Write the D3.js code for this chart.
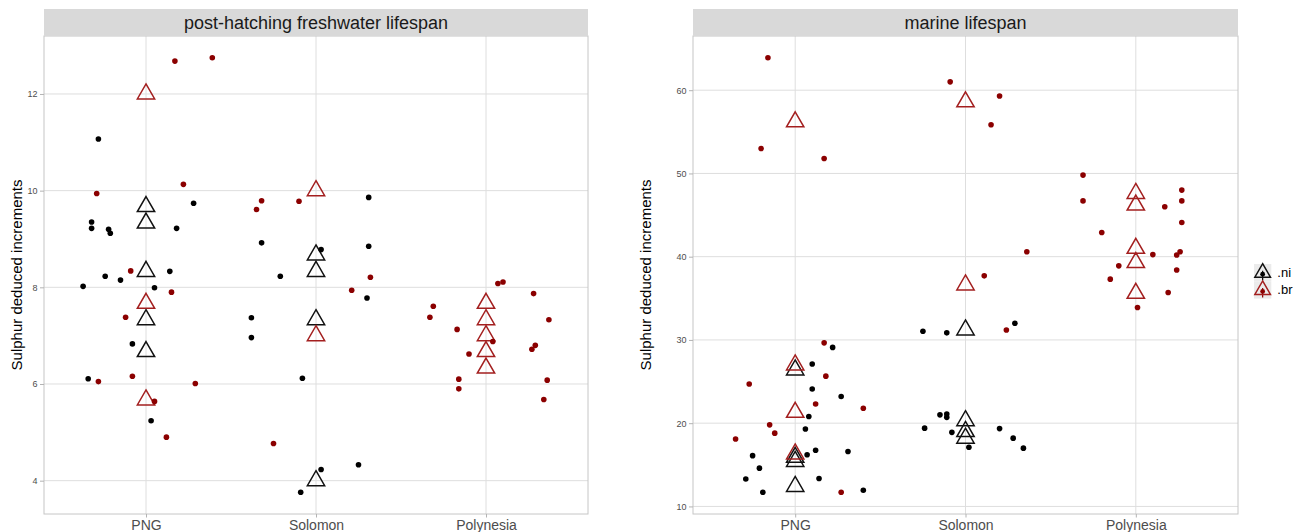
<!DOCTYPE html>
<html><head><meta charset="utf-8">
<script src="https://cdn.jsdelivr.net/npm/d3@7"></script>
<style>
body{margin:0;background:#fff}
svg{display:block}
text{font-family:"Liberation Sans",Arial,Helvetica,sans-serif}
</style>
</head><body>
<svg id="chart" width="1304" height="532"></svg>
<script>
// ---------- data ----------
const categories = ["PNG", "Solomon", "Polynesia"];
const panelTitles = ["post-hatching freshwater lifespan", "marine lifespan"];
const groups = [".ni", ".br"];
const yTitle = "Sulphur deduced increments";
const fwTicks = [4, 6, 8, 10, 12];
const mrTicks = [10, 20, 30, 40, 50, 60];

// jittered points: [category, jitter (fraction of category step), value]
const fwNiDots = [
  ["PNG",-0.28,11.07],["PNG",-0.32,9.35],["PNG",-0.32,9.22],["PNG",-0.22,9.20],["PNG",-0.21,9.12],
  ["PNG",0.18,9.22],["PNG",0.28,9.74],["PNG",-0.24,8.23],["PNG",-0.15,8.15],["PNG",-0.37,8.02],
  ["PNG",0.05,7.99],["PNG",0.14,8.33],["PNG",-0.08,6.83],["PNG",-0.34,6.11],["PNG",0.03,5.24],
  ["Solomon",-0.32,8.92],["Solomon",0.03,8.78],["Solomon",-0.21,8.23],["Solomon",-0.38,7.37],
  ["Solomon",-0.38,6.96],["Solomon",-0.08,6.12],["Solomon",0.03,4.23],["Solomon",-0.09,3.76],
  ["Solomon",0.31,9.86],["Solomon",0.31,8.85],["Solomon",0.30,7.78],["Solomon",0.25,4.33]
];
const fwBrDots = [
  ["PNG",0.17,12.68],["PNG",0.39,12.75],["PNG",-0.29,9.94],["PNG",0.22,10.13],["PNG",-0.09,8.34],
  ["PNG",0.15,7.90],["PNG",-0.12,7.38],["PNG",-0.28,6.05],["PNG",-0.08,6.16],["PNG",0.29,6.01],
  ["PNG",0.05,5.64],["PNG",0.12,4.90],
  ["Solomon",-0.35,9.61],["Solomon",-0.32,9.79],["Solomon",-0.10,9.78],["Solomon",-0.25,4.77],
  ["Solomon",0.32,8.21],["Solomon",0.21,7.94],
  ["Polynesia",0.07,8.08],["Polynesia",0.10,8.11],["Polynesia",0.28,7.87],["Polynesia",0.37,7.33],
  ["Polynesia",-0.17,7.13],["Polynesia",0.04,6.88],["Polynesia",-0.10,6.62],["Polynesia",0.29,6.80],
  ["Polynesia",0.27,6.72],["Polynesia",-0.16,6.10],["Polynesia",-0.16,5.90],["Polynesia",0.36,6.08],
  ["Polynesia",0.34,5.68],["Polynesia",-0.31,7.61],["Polynesia",-0.33,7.38]
];
// triangle markers: [category, value]
const fwNiMeans = [["PNG",9.67],["PNG",9.33],["PNG",8.33],["PNG",7.33],["PNG",6.67],
  ["Solomon",8.67],["Solomon",8.33],["Solomon",7.33],["Solomon",4.0]];
const fwBrMeans = [["PNG",12.0],["PNG",7.67],["PNG",5.67],["Solomon",10.0],["Solomon",7.0],
  ["Polynesia",7.67],["Polynesia",7.33],["Polynesia",7.0],["Polynesia",6.67],["Polynesia",6.33]];

const mrNiDots = [
  ["PNG",0.22,29.1],["PNG",0.10,27.1],["PNG",0.10,24.1],["PNG",0.27,23.2],["PNG",0.08,20.8],
  ["PNG",0.06,19.3],["PNG",-0.25,16.1],["PNG",0.07,16.2],["PNG",0.12,16.75],["PNG",0.31,16.6],
  ["PNG",-0.21,14.6],["PNG",-0.29,13.3],["PNG",0.14,13.35],["PNG",-0.19,11.7],["PNG",0.40,11.95],
  ["Solomon",-0.25,31.05],["Solomon",-0.11,30.85],["Solomon",0.29,32.0],["Solomon",-0.24,19.4],
  ["Solomon",-0.15,21.0],["Solomon",-0.11,21.1],["Solomon",-0.11,20.7],["Solomon",-0.08,18.9],
  ["Solomon",0.02,17.1],["Solomon",0.20,19.35],["Solomon",0.28,18.2],["Solomon",0.34,17.0]
];
const mrBrDots = [
  ["PNG",-0.16,63.9],["PNG",-0.20,53.0],["PNG",0.17,51.8],["PNG",0.17,29.65],["PNG",-0.27,24.7],
  ["PNG",0.18,25.65],["PNG",0.12,22.3],["PNG",0.40,21.8],["PNG",-0.15,19.8],["PNG",-0.12,18.8],
  ["PNG",-0.35,18.1],["PNG",0.27,11.7],
  ["Solomon",-0.09,61.0],["Solomon",0.20,59.3],["Solomon",0.15,55.85],["Solomon",0.36,40.6],
  ["Solomon",0.11,37.7],["Solomon",0.24,31.2],
  ["Polynesia",-0.31,49.8],["Polynesia",-0.31,46.7],["Polynesia",0.27,48.0],["Polynesia",0.27,46.7],
  ["Polynesia",0.17,46.0],["Polynesia",0.27,44.1],["Polynesia",-0.20,42.9],["Polynesia",0.10,40.25],
  ["Polynesia",0.24,40.2],["Polynesia",0.26,40.6],["Polynesia",-0.10,38.9],["Polynesia",0.24,38.4],
  ["Polynesia",-0.15,37.3],["Polynesia",0.19,35.7],["Polynesia",0.01,33.9]
];
const mrNiMeans = [["PNG",26.4],["PNG",15.9],["PNG",15.4],["PNG",12.4],
  ["Solomon",31.2],["Solomon",20.3],["Solomon",19.0],["Solomon",18.2]];
const mrBrMeans = [["PNG",56.2],["PNG",27.0],["PNG",21.3],["PNG",16.3],["Solomon",58.6],["Solomon",36.6],
  ["Polynesia",47.6],["Polynesia",46.2],["Polynesia",41.0],["Polynesia",39.3],["Polynesia",35.6]];

// ---------- drawing ----------
const svg = d3.select("#chart");
const dotColor = {".ni": "#000000", ".br": "#8b0000"};
const triColor = {".ni": "#111111", ".br": "#a31f1f"};
const panelTop = 36, panelBottom = 514, stripTop = 9;
const triangle = d3.symbol().type(d3.symbolTriangle).size(130);

const panels = [
  {title: panelTitles[0], left: 44, right: 588, ticks: fwTicks, titleX: 22,
   dots: {".ni": fwNiDots, ".br": fwBrDots}, means: {".ni": fwNiMeans, ".br": fwBrMeans}},
  {title: panelTitles[1], left: 693, right: 1238, ticks: mrTicks, titleX: 651,
   dots: {".ni": mrNiDots, ".br": mrBrDots}, means: {".ni": mrNiMeans, ".br": mrBrMeans}}
];

panels.forEach(p => {
  const vals = groups.flatMap(gr => p.dots[gr].map(d => d[2]));
  const [mn, mx] = d3.extent(vals);
  const pad = (mx - mn) * 0.05;
  const y = d3.scaleLinear().domain([mn - pad, mx + pad]).range([panelBottom, panelTop]);
  const x = d3.scalePoint().domain(categories).range([p.left, p.right]).padding(0.6);
  const step = x.step();
  const g = svg.append("g");

  // grid
  g.selectAll(".hgrid").data(p.ticks).join("line")
    .attr("x1", p.left).attr("x2", p.right)
    .attr("y1", d => y(d)).attr("y2", d => y(d))
    .attr("stroke", "#dedede").attr("stroke-width", 1);
  g.selectAll(".vgrid").data(categories).join("line")
    .attr("x1", d => x(d)).attr("x2", d => x(d))
    .attr("y1", panelTop).attr("y2", panelBottom)
    .attr("stroke", "#dedede").attr("stroke-width", 1);

  // triangles (group markers)
  groups.forEach(gr => {
    g.selectAll(null).data(p.means[gr]).join("path")
      .attr("d", triangle)
      .attr("transform", d => `translate(${x(d[0])},${y(d[1])})`)
      .attr("fill", "none").attr("stroke", triColor[gr]).attr("stroke-width", 1.5);
  });
  // jittered dots
  groups.forEach(gr => {
    g.selectAll(null).data(p.dots[gr]).join("circle")
      .attr("cx", d => x(d[0]) + d[1] * step)
      .attr("cy", d => y(d[2]))
      .attr("r", 2.8)
      .attr("fill", dotColor[gr]);
  });

  // panel border
  g.append("rect").attr("x", p.left).attr("y", panelTop)
    .attr("width", p.right - p.left).attr("height", panelBottom - panelTop)
    .attr("fill", "none").attr("stroke", "#c6c6c6").attr("stroke-width", 1);

  // strip
  g.append("rect").attr("x", p.left).attr("y", stripTop)
    .attr("width", p.right - p.left).attr("height", panelTop - stripTop)
    .attr("fill", "#d9d9d9");
  g.append("text").attr("x", (p.left + p.right) / 2).attr("y", 29)
    .attr("text-anchor", "middle").attr("fill", "#1a1a1a")
    .style("font-size", "18px").text(p.title);

  // y axis
  const ya = g.append("g").attr("transform", `translate(${p.left},0)`)
    .call(d3.axisLeft(y).tickValues(p.ticks).tickSize(4).tickPadding(2.5));
  ya.select(".domain").remove();
  ya.selectAll(".tick line").attr("stroke", "#b3b3b3");
  ya.selectAll(".tick text").attr("fill", "#4d4d4d").style("font-size", "9px")
    .style("font-family", '"Liberation Sans",Arial,sans-serif');

  // x axis
  const xa = g.append("g").attr("transform", `translate(0,${panelBottom})`)
    .call(d3.axisBottom(x).tickSize(3.5).tickPadding(3));
  xa.select(".domain").remove();
  xa.selectAll(".tick line").attr("stroke", "#b3b3b3");
  xa.selectAll(".tick text").attr("fill", "#4d4d4d").style("font-size", "14px")
    .style("font-family", '"Liberation Sans",Arial,sans-serif');

  // y title
  g.append("text")
    .attr("transform", `translate(${p.titleX},${(panelTop + panelBottom) / 2}) rotate(-90)`)
    .attr("text-anchor", "middle").attr("fill", "#000")
    .style("font-size", "15px").text(yTitle);
});

// legend
const legend = svg.append("g").attr("transform", "translate(1254,264)");
const keySize = 17.3;
groups.forEach((gr, i) => {
  const k = legend.append("g").attr("transform", `translate(0,${i * keySize})`);
  k.append("rect").attr("width", keySize).attr("height", keySize).attr("fill", "#ebebeb");
  const cx = keySize / 2, cy = keySize / 2;
  k.append("line").attr("x1", cx).attr("x2", cx).attr("y1", cy - 2).attr("y2", keySize - 1)
    .attr("stroke", dotColor[gr]).attr("stroke-width", 1.2);
  k.append("path").attr("d", d3.symbol().type(d3.symbolTriangle).size(105))
    .attr("transform", `translate(${cx},${cy})`)
    .attr("fill", "none").attr("stroke", triColor[gr]).attr("stroke-width", 1.5);
  k.append("circle").attr("cx", cx).attr("cy", cy + 1.5).attr("r", 2.4).attr("fill", dotColor[gr]);
  k.append("text").attr("x", keySize + 6).attr("y", cy + 4.5)
    .attr("fill", "#000").style("font-size", "13px").text(gr);
});
</script>
</body></html>
